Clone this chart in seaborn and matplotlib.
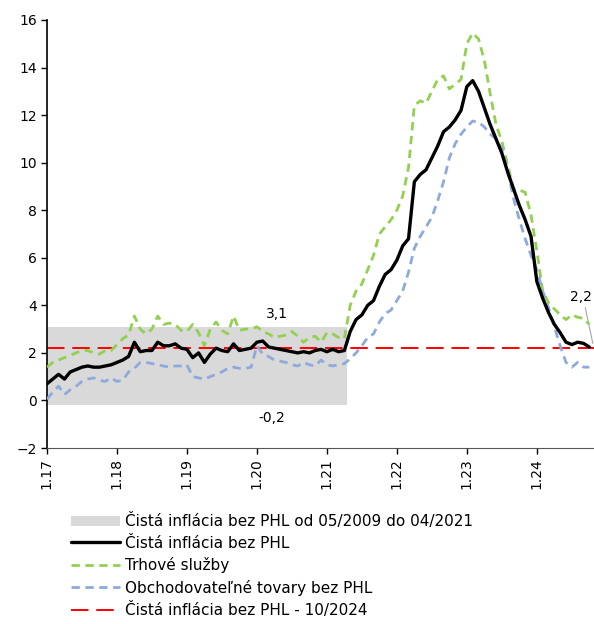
import numpy as np
import pandas as pd
import matplotlib
matplotlib.use("Agg")
import matplotlib.pyplot as plt
import seaborn as sns

# monthly data, 01/2017 - 10/2024
months = pd.date_range("2017-01-01", "2024-10-01", freq="MS")

core = [0.7, 0.9, 1.1, 0.9, 1.2, 1.3, 1.4, 1.45, 1.4, 1.4, 1.45, 1.5,
        1.6, 1.7, 1.85, 2.45, 2.05, 2.1, 2.1, 2.45, 2.3, 2.3, 2.38, 2.2,
        2.15, 1.8, 2.0, 1.6, 1.95, 2.2, 2.1, 2.05, 2.38, 2.1, 2.15, 2.2,
        2.45, 2.5, 2.25, 2.2, 2.15, 2.1, 2.05, 2.0, 2.05, 2.0, 2.1, 2.15,
        2.05, 2.15, 2.05, 2.1, 2.9, 3.4, 3.6, 4.0, 4.2, 4.8, 5.3, 5.5,
        5.9, 6.5, 6.8, 9.2, 9.5, 9.7, 10.2, 10.7, 11.3, 11.5, 11.8, 12.2,
        13.2, 13.45, 13.0, 12.3, 11.6, 11.0, 10.4, 9.6, 8.9, 8.2, 7.6, 6.9,
        5.0, 4.3, 3.7, 3.2, 2.85, 2.45, 2.35, 2.45, 2.4, 2.25]

services = [1.4, 1.6, 1.7, 1.8, 1.9, 2.0, 2.1, 2.1, 2.0, 1.95, 2.1, 2.1,
            2.35, 2.6, 2.75, 3.55, 3.0, 2.8, 3.0, 3.55, 3.2, 3.25, 3.2, 2.95,
            2.9, 3.2, 2.85, 2.3, 3.0, 3.3, 2.95, 2.8, 3.55, 2.95, 3.0, 3.0,
            3.1, 2.9, 2.8, 2.65, 2.7, 2.75, 2.9, 2.7, 2.45, 2.65, 2.7, 2.45,
            2.85, 2.8, 2.65, 2.6, 4.0, 4.6, 4.9, 5.5, 6.1, 7.0, 7.3, 7.6,
            8.0, 8.6, 9.8, 12.4, 12.6, 12.5, 13.0, 13.5, 13.65, 13.1, 13.3, 13.5,
            15.0, 15.45, 15.2, 14.3, 12.9, 11.6, 10.9, 9.9, 8.9, 8.85, 8.75, 7.8,
            6.3, 4.6, 4.1, 3.85, 3.6, 3.4, 3.6, 3.5, 3.45, 3.2]

goods = [0.05, 0.35, 0.6, 0.25, 0.45, 0.6, 0.8, 0.9, 0.95, 0.85, 0.8, 0.95,
         0.8, 0.85, 1.2, 1.35, 1.6, 1.6, 1.55, 1.5, 1.45, 1.4, 1.45, 1.45,
         1.5, 1.0, 0.95, 0.9, 1.0, 1.1, 1.2, 1.35, 1.4, 1.35, 1.35, 1.4,
         2.3, 1.95, 1.85, 1.7, 1.65, 1.6, 1.5, 1.45, 1.6, 1.5, 1.45, 1.7,
         1.5, 1.45, 1.5, 1.55, 1.75, 2.0, 2.3, 2.65, 2.8, 3.3, 3.65, 3.8,
         4.2, 4.6, 5.4, 6.4, 6.9, 7.3, 7.7, 8.4, 9.2, 10.2, 10.8, 11.2,
         11.5, 11.75, 11.7, 11.5, 11.2, 11.0, 10.6, 9.7, 8.5, 7.6, 6.8, 6.1,
         5.5, 4.6, 3.9, 3.1, 2.3, 1.6, 1.4, 1.6, 1.4, 1.4]

band_low, band_high = -0.2, 3.1
band_end = "2021-04"
core_last = 2.2

tick_labels = ["1.17", "1.18", "1.19", "1.20", "1.21", "1.22", "1.23", "1.24"]

lbl_band = "Čistá inflácia bez PHL od 05/2009 do 04/2021"
lbl_core = "Čistá inflácia bez PHL"
lbl_serv = "Trhové služby"
lbl_goods = "Obchodovateľné tovary bez PHL"
lbl_last = "Čistá inflácia bez PHL - 10/2024"

df = pd.DataFrame({"m": np.arange(len(months)), "core": core,
                   "services": services, "goods": goods})

sns.set_style("white")
plt.rcParams["font.family"] = ["DejaVu Sans"]
plt.rcParams["text.color"] = "black"
plt.rcParams["xtick.color"] = "black"
plt.rcParams["ytick.color"] = "black"

fig = plt.figure(figsize=(5.94, 6.24), dpi=100)
ax = fig.add_axes([0.079, 0.282, 0.921, 0.686])

# grey band for the historical range
band_idx = list(months.strftime("%Y-%m")).index(band_end)
ax.fill_between([0, band_idx + 0.5], band_low, band_high, color="#d9d9d9",
                lw=0, label=lbl_band, zorder=1)

sns.lineplot(data=df, x="m", y="core", ax=ax, color="black", lw=2.4,
             label=lbl_core, zorder=4)
sns.lineplot(data=df, x="m", y="services", ax=ax, color="#92d050", lw=2.0,
             label=lbl_serv, zorder=3)
sns.lineplot(data=df, x="m", y="goods", ax=ax, color="#8eaadb", lw=2.0,
             label=lbl_goods, zorder=3)
ax.lines[-2].set_dashes([3, 2])
ax.lines[-1].set_dashes([3, 2])
ax.axhline(core_last, color="#ff0000", lw=1.4, dashes=(9, 4), label=lbl_last,
           zorder=2)

ax.set_xlim(0, len(months) - 0.2)
ax.set_ylim(-2, 16)
ax.set_yticks(range(-2, 17, 2))
ax.set_xticks(range(0, len(months), 12))
ax.set_xticklabels(tick_labels, rotation=90)
ax.set_xlabel("")
ax.set_ylabel("")
ax.tick_params(axis="both", labelsize=10, length=4, width=1, color="black",
               labelcolor="black", direction="out", left=True, bottom=True,
               pad=3)

sns.despine(ax=ax, top=True, right=True)
ax.spines["left"].set_color("black")
ax.spines["bottom"].set_color("#555555")
ax.spines["left"].set_linewidth(1.2)

# value labels
ax.text(39.5, band_high + 0.55, "3,1", fontsize=10, ha="center", va="center")
ax.text(38.5, band_low - 0.55, "-0,2", fontsize=10, ha="center", va="center")
ax.text(91.5, core_last + 2.15, "2,2", fontsize=10, ha="center", va="center")
ax.plot([92.3, 93.6], [core_last + 1.7, core_last + 0.2], color="#a6a6a6",
        lw=0.8)

handles, labels = ax.get_legend_handles_labels()
ax.legend(handles, labels, loc="upper left", bbox_to_anchor=(0.11, 0.187),
          bbox_transform=fig.transFigure, frameon=False, fontsize=11,
          handlelength=3.2, handletextpad=0.3, labelspacing=0.42,
          borderaxespad=0)

fig.savefig("out.png", dpi=100)
